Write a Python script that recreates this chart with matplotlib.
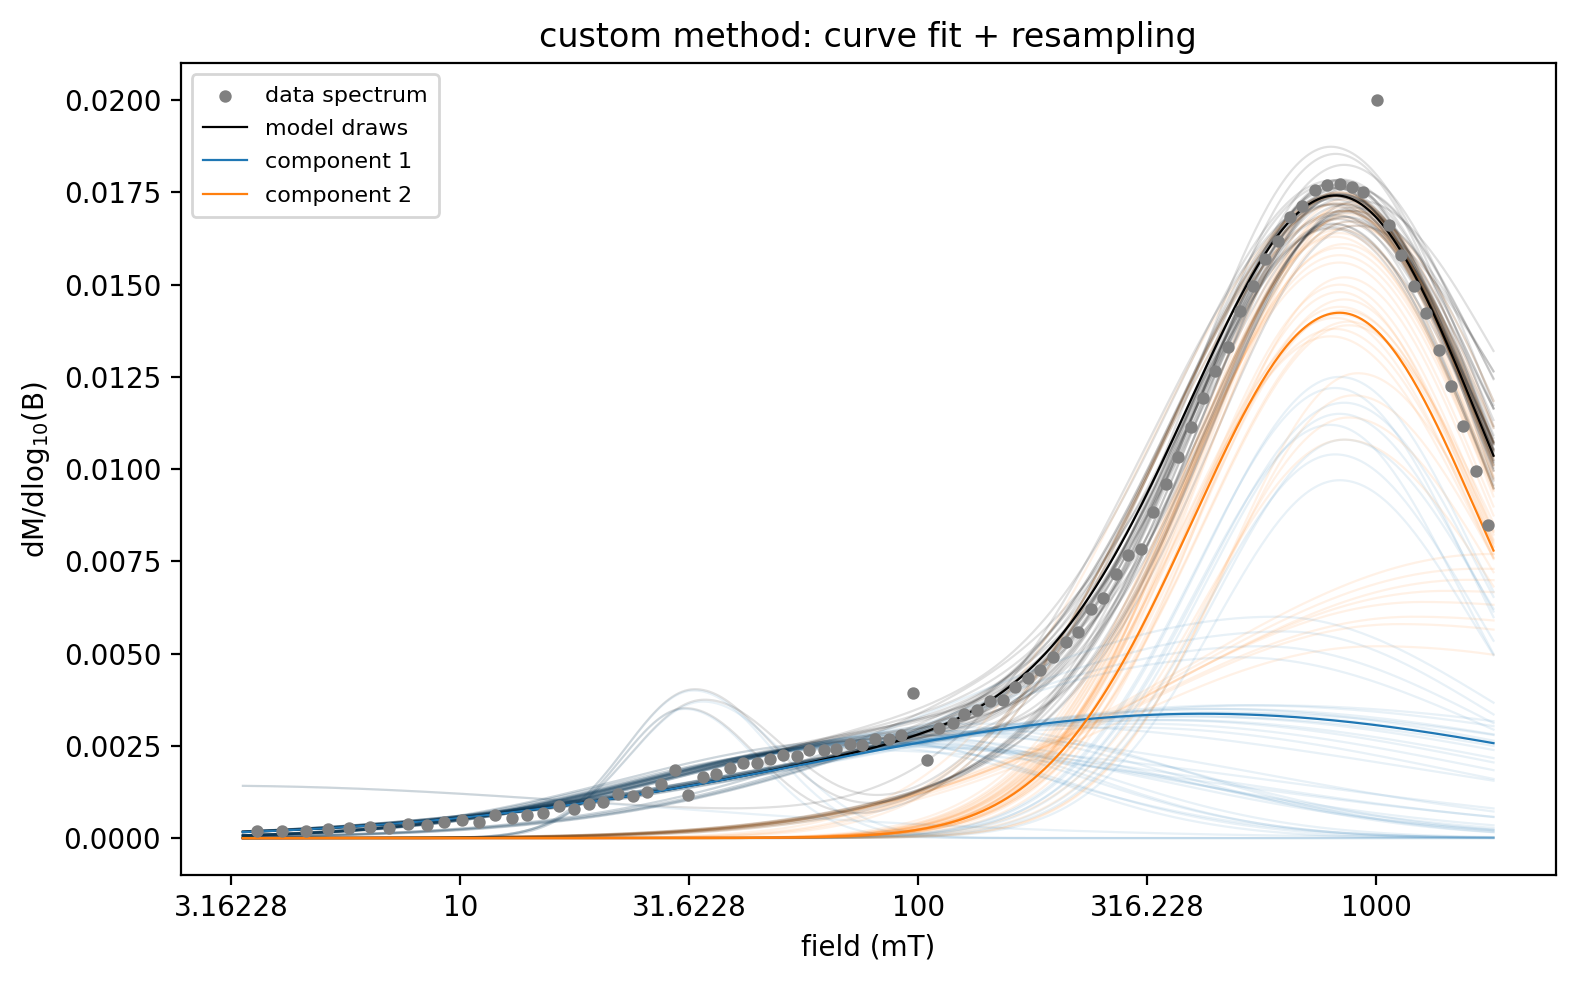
import numpy as np
import matplotlib
matplotlib.use("Agg")
import matplotlib.pyplot as plt
from matplotlib.ticker import MultipleLocator, FuncFormatter, FormatStrFormatter

# measured spectrum (x is log10 of field in mT)
log_field = [0.556, 0.610, 0.663, 0.711, 0.757, 0.802, 0.844, 0.885, 0.927, 0.964,
             1.003, 1.040, 1.075, 1.112, 1.145, 1.180, 1.215, 1.247, 1.280, 1.311,
             1.344, 1.376, 1.407, 1.437, 1.468, 1.498, 1.529, 1.559, 1.588, 1.618,
             1.647, 1.677, 1.705, 1.734, 1.762, 1.793, 1.821, 1.850, 1.878, 1.906,
             1.935, 1.961, 1.989, 2.018, 2.046, 2.075, 2.100, 2.128, 2.157, 2.184,
             2.211, 2.240, 2.266, 2.295, 2.323, 2.348, 2.377, 2.404, 2.431, 2.458,
             2.486, 2.513, 2.540, 2.567, 2.596, 2.622, 2.648, 2.676, 2.703, 2.731,
             2.757, 2.785, 2.811, 2.837, 2.866, 2.892, 2.921, 2.947, 2.972, 3.002,
             3.028, 3.054, 3.082, 3.108, 3.136, 3.163, 3.189, 3.217, 3.243]
dm_dlogb = [0.000181, 0.000181, 0.000181, 0.000236, 0.000263, 0.000290, 0.000263, 0.000371, 0.000344, 0.000425,
            0.000479, 0.000425, 0.000615, 0.000534, 0.000615, 0.000669, 0.000858, 0.000777, 0.000913, 0.000967,
            0.001192, 0.001129, 0.001238, 0.001454, 0.001842, 0.001165, 0.001644, 0.001725, 0.001888, 0.002023,
            0.002023, 0.002131, 0.002240, 0.002213, 0.002375, 0.002375, 0.002402, 0.002538, 0.002511, 0.002673,
            0.002673, 0.002781, 0.003927, 0.002104, 0.002971, 0.003106, 0.003358, 0.003467, 0.003702, 0.003737,
            0.004089, 0.004352, 0.004558, 0.004921, 0.005327, 0.005598, 0.006221, 0.006519, 0.007169, 0.007672,
            0.007827, 0.008848, 0.009587, 0.010337, 0.011150, 0.011935, 0.012647, 0.013316, 0.014291, 0.014968,
            0.015699, 0.016187, 0.016845, 0.017143, 0.017576, 0.017704, 0.017720, 0.017657, 0.017514, 0.020000,
            0.016628, 0.015808, 0.014968, 0.014237, 0.013235, 0.012260, 0.011158, 0.009958, 0.008496]

# best fit: height, centre (log10 mT), left width, right width
best_comp1 = [0.00337, 2.62, 0.85, 0.865]
best_comp2 = [0.01424, 2.92, 0.32, 0.306]

# resampled fits, one entry per draw
c1_height = [0.0026, 0.0028, 0.0025, 0.0029, 0.0026, 0.0027, 0.0025, 0.0030, 0.0026, 0.0027,
             0.0024, 0.0029, 0.0026, 0.0028, 0.0025, 0.0031, 0.0026, 0.0027,
             0.0034, 0.0032, 0.0036, 0.0031, 0.0035, 0.0033, 0.0030, 0.0036, 0.0033, 0.0032,
             0.0034, 0.0035,
             0.0115, 0.0122, 0.0108, 0.0125, 0.0112, 0.0097, 0.0118, 0.0104,
             0.0040, 0.0037, 0.0035, 0.00142,
             0.0052, 0.0056, 0.0049, 0.0060]
c1_centre = [1.92, 1.98, 1.88, 2.05, 1.85, 2.00, 1.90, 2.10, 1.94, 1.96,
             1.82, 2.08, 1.93, 2.02, 1.87, 2.14, 1.91, 1.99,
             2.62, 2.55, 2.70, 2.48, 2.66, 2.58, 2.45, 2.75, 2.60, 2.52,
             2.68, 2.64,
             2.92, 2.91, 2.93, 2.92, 2.90, 2.92, 2.93, 2.91,
             1.51, 1.53, 1.49, 0.45,
             2.75, 2.80, 2.70, 2.78]
c1_left = [0.52, 0.53, 0.50, 0.56, 0.50, 0.54, 0.51, 0.58, 0.52, 0.53,
           0.49, 0.57, 0.52, 0.55, 0.50, 0.59, 0.52, 0.53,
           0.86, 0.84, 0.88, 0.82, 0.87, 0.85, 0.81, 0.90, 0.85, 0.83,
           0.87, 0.86,
           0.29, 0.30, 0.28, 0.30, 0.29, 0.27, 0.30, 0.28,
           0.15, 0.16, 0.14, 1.00,
           0.70, 0.72, 0.68, 0.71]
c1_right = [0.60, 0.42, 0.80, 0.50, 0.70, 0.38, 0.90, 0.48, 0.62, 0.40,
            0.85, 0.52, 0.36, 0.75, 0.44, 0.95, 0.40, 0.56,
            0.86, 0.80, 0.95, 0.76, 0.90, 0.84, 0.72, 1.00, 0.88, 0.78,
            0.92, 0.82,
            0.30, 0.29, 0.31, 0.30, 0.28, 0.29, 0.30, 0.30,
            0.17, 0.18, 0.16, 0.95,
            0.50, 0.45, 0.55, 0.48]
c2_height = [0.0168, 0.0164, 0.0172, 0.0160, 0.0170, 0.0166, 0.0174, 0.0158, 0.0171, 0.0167,
             0.0175, 0.0161, 0.0169, 0.0163, 0.0173, 0.0156, 0.0170, 0.0165,
             0.0142, 0.0146, 0.0138, 0.0150, 0.0140, 0.0144, 0.0152, 0.0136, 0.0143, 0.0148,
             0.0139, 0.0141,
             0.0064, 0.0058, 0.0070, 0.0052, 0.0067, 0.0077, 0.0060, 0.0073,
             0.0172, 0.0170, 0.0175, 0.0174,
             0.0120, 0.0114, 0.0126, 0.0108]
c2_centre = [2.93, 2.92, 2.94, 2.92, 2.93, 2.95, 2.91, 2.92, 2.93, 2.94,
             2.92, 2.93, 2.94, 2.91, 2.93, 2.92, 2.95, 2.92,
             2.92, 2.93, 2.91, 2.92, 2.94, 2.92, 2.93, 2.90, 2.93, 2.92,
             2.94, 2.91,
             3.10, 3.05, 3.20, 3.00, 3.15, 3.25, 3.08, 3.22,
             2.92, 2.93, 2.92, 2.92,
             2.95, 2.94, 2.96, 2.93]
c2_left = [0.33, 0.34, 0.32, 0.33, 0.32, 0.33, 0.31, 0.34, 0.32, 0.33,
           0.31, 0.34, 0.32, 0.33, 0.32, 0.35, 0.32, 0.33,
           0.32, 0.31, 0.33, 0.31, 0.32, 0.32, 0.30, 0.33, 0.32, 0.31,
           0.32, 0.33,
           0.60, 0.58, 0.64, 0.56, 0.62, 0.66, 0.60, 0.65,
           0.40, 0.41, 0.39, 0.42,
           0.28, 0.29, 0.28, 0.30]
c2_right = [0.33, 0.32, 0.34, 0.33, 0.31, 0.32, 0.34, 0.33, 0.30, 0.35,
            0.32, 0.31, 0.33, 0.34, 0.31, 0.32, 0.36, 0.33,
            0.31, 0.30, 0.32, 0.31, 0.30, 0.32, 0.31, 0.33, 0.31, 0.30,
            0.32, 0.31,
            1.00, 0.90, 1.10, 0.85, 1.05, 1.20, 0.95, 1.15,
            0.33, 0.32, 0.34, 0.33,
            0.32, 0.33, 0.31, 0.34]


def split_gauss(x, height, centre, w_left, w_right):
    w = np.where(x < centre, w_left, w_right)
    return height * np.exp(-0.5 * ((x - centre) / w) ** 2)


x = np.linspace(0.525, 3.256, 400)

fig = plt.figure(figsize=(7.875, 4.91), dpi=200)
ax = fig.add_axes([0.1147, 0.109, 0.8731, 0.8265])

for i in range(len(c1_height)):
    y1 = split_gauss(x, c1_height[i], c1_centre[i], c1_left[i], c1_right[i])
    y2 = split_gauss(x, c2_height[i], c2_centre[i], c2_left[i], c2_right[i])
    ax.plot(x, y1 + y2, color="k", alpha=0.12, lw=0.8)
    ax.plot(x, y1, color="C0", alpha=0.1, lw=0.8)
    ax.plot(x, y2, color="C1", alpha=0.1, lw=0.8)

b1 = split_gauss(x, *best_comp1)
b2 = split_gauss(x, *best_comp2)
h_data = ax.scatter(log_field, dm_dlogb, s=12, color="grey", zorder=3, label="data spectrum")
h_tot, = ax.plot(x, b1 + b2, color="k", lw=0.8, label="model draws")
h_c1, = ax.plot(x, b1, color="C0", lw=0.8, label="component 1")
h_c2, = ax.plot(x, b2, color="C1", lw=0.8, label="component 2")

ax.set_xlim(0.389, 3.392)
ax.set_ylim(-0.001, 0.021)
ax.xaxis.set_major_locator(MultipleLocator(0.5))
ax.xaxis.set_major_formatter(FuncFormatter(lambda v, p: "%g" % (10 ** v)))
ax.yaxis.set_major_locator(MultipleLocator(0.0025))
ax.yaxis.set_major_formatter(FormatStrFormatter("%.4f"))

ax.set_xlabel("field (mT)")
ax.set_ylabel("dM/dlog$_{10}$(B)")
ax.set_title("custom method: curve fit + resampling")
ax.legend(handles=[h_data, h_tot, h_c1, h_c2], loc="upper left", fontsize=8,
          labelspacing=0.6, borderpad=0.5)

fig.savefig("out.png", dpi=200)
